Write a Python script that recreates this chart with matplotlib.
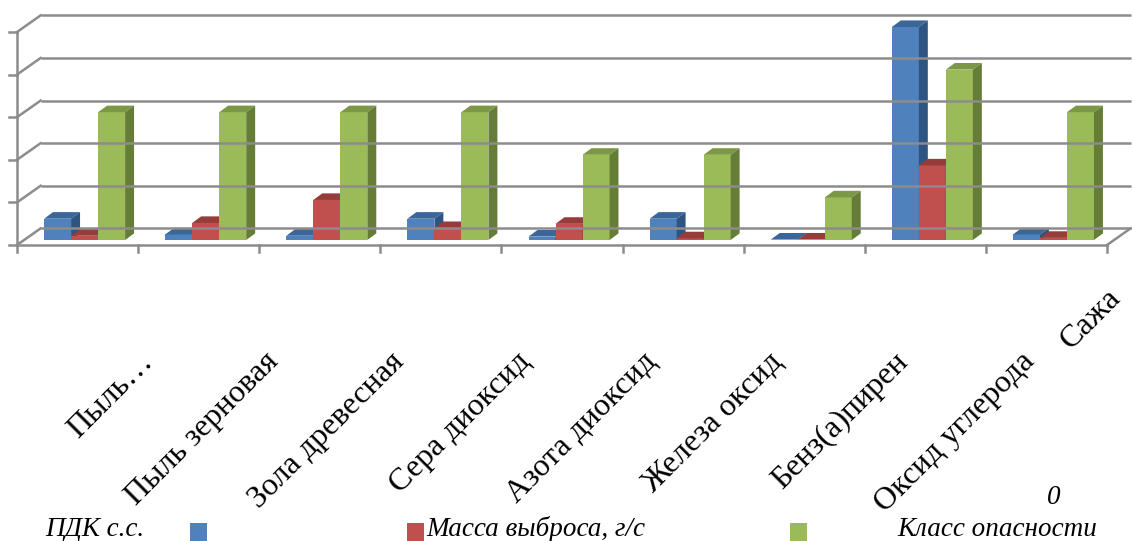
import matplotlib
matplotlib.use("Agg")
import matplotlib.pyplot as plt
from matplotlib.patches import Polygon, Rectangle

# pollutant names and the three series per pollutant
categories = ["Пыль…", "Пыль зерновая", "Зола древесная", "Сера диоксид",
              "Азота диоксид", "Железа оксид", "Бенз(а)пирен",
              "Оксид углерода", "Сажа"]
pdk = [0.5, 0.13, 0.1, 0.5, 0.08, 0.5, 0.01, 5.0, 0.13]
mass = [0.1, 0.4, 0.94, 0.28, 0.38, 0.04, 0.01, 1.75, 0.05]
danger_class = [3, 3, 3, 3, 2, 2, 1, 4, 3]
series_names = ["ПДК с.с.", "Масса выброса, г/с", "Класс опасности"]
y_ticks = [0, 1, 2, 3, 4, 5]

# (front, top, side) shades for each series
shades = [("#4F81BD", "#3B6699", "#2E5482"),
          ("#C0504D", "#963C3A", "#8A3634"),
          ("#9BBB59", "#7C9745", "#667D37")]

W, H = 1132, 541
fig = plt.figure(figsize=(W / 100, H / 100), dpi=100)
plt.rcParams['font.family'] = ['Liberation Serif', 'DejaVu Serif']

ax = fig.add_axes([17 / W, (H - 245) / H, 1090 / W, 213 / H])
ax.set_xlim(-0.5, len(categories) - 0.5)
ax.set_ylim(0, 5)
ax.axis("off")

x0, x1 = -0.5, len(categories) - 0.5
back_dx, back_dy = 0.195, 0.39      # offset of the back wall
base_dx, base_dy = 0.058, 0.117     # bars stand in the middle of the floor
depth_dx, depth_dy = 0.074, 0.155   # bar thickness
bar_w = 0.223
grid_col = "#8C8C8C"
lw = 1.8

# back wall gridlines and the diagonal joins to the value axis
for v in y_ticks:
    ax.plot([x0 + back_dx, x1 + back_dx], [v + back_dy, v + back_dy],
            color=grid_col, lw=lw, clip_on=False, solid_capstyle="butt")
    ax.plot([x0, x0 + back_dx], [v, v + back_dy], color=grid_col, lw=lw,
            clip_on=False)
    ax.plot([x0 - 0.066, x0], [v, v], color=grid_col, lw=lw, clip_on=False)
ax.plot([x0, x0], [0, 5], color=grid_col, lw=lw, clip_on=False)

# floor front edge, right edge and category ticks
ax.plot([x0, x1], [0, 0], color=grid_col, lw=lw, clip_on=False)
ax.plot([x1, x1 + back_dx], [0, back_dy], color=grid_col, lw=lw, clip_on=False)
for k in range(len(categories) + 1):
    ax.plot([x0 + k, x0 + k], [0, -0.17], color=grid_col, lw=lw, clip_on=False)

# 3-D looking bars: front face, top and right side
series = [pdk, mass, danger_class]
for i in range(len(categories)):
    for s, values in enumerate(series):
        v = values[i]
        front, top, side = shades[s]
        left = i - 1.5 * bar_w + s * bar_w + base_dx
        right = left + bar_w
        b = base_dy
        t = base_dy + v
        ax.add_patch(Polygon([(left, b), (right, b), (right, t), (left, t)],
                             closed=True, fc=front, ec="none", clip_on=False))
        ax.add_patch(Polygon([(left, t), (right, t),
                              (right + depth_dx, t + depth_dy),
                              (left + depth_dx, t + depth_dy)],
                             closed=True, fc=top, ec="none", clip_on=False))
        ax.add_patch(Polygon([(right, b), (right + depth_dx, b + depth_dy),
                              (right + depth_dx, t + depth_dy), (right, t)],
                             closed=True, fc=side, ec="none", clip_on=False))

# rotated category labels; the last one is pulled back inside the figure
label_start, label_step, label_y = 0.5, 1.04, -2.4
for i, name in enumerate(categories):
    lx, ly = label_start + label_step * i, label_y
    if lx > x1:
        lx, ly = x1 - 0.01, -0.9
    ax.text(lx, ly, name, rotation=45, rotation_mode="anchor",
            ha="right", va="top", fontsize=23, clip_on=False)

# legend row along the bottom edge
legend_text_x = [45, 426, 897]
legend_box_x = [190, 407, 790]
for s, name in enumerate(series_names):
    fig.text(legend_text_x[s] / W, 1 - 536 / H, name, fontsize=19.5,
             fontstyle="italic", va="baseline", ha="left")
    fig.patches.append(Rectangle((legend_box_x[s] / W, 0), 17 / W, 18 / H,
                                 transform=fig.transFigure,
                                 fc=shades[s][0], ec="none"))
fig.text(1047 / W, 1 - 504 / H, "0", fontsize=19.5, fontstyle="italic",
         va="baseline", ha="left")

fig.savefig("out.png", dpi=100)
